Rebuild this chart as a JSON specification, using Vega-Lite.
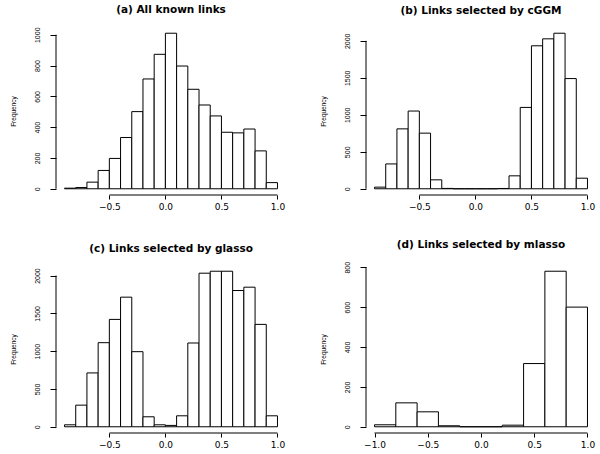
{
  "$schema": "https://vega.github.io/schema/vega-lite/v6.json",
  "background": "white",
  "padding": {"left": 10, "top": 5, "right": 5, "bottom": 5},
  "datasets": {
    "a": [
      {"lo": -0.9, "hi": -0.8, "count": 4},
      {"lo": -0.8, "hi": -0.7, "count": 8},
      {"lo": -0.7, "hi": -0.6, "count": 43},
      {"lo": -0.6, "hi": -0.5, "count": 119},
      {"lo": -0.5, "hi": -0.4, "count": 197},
      {"lo": -0.4, "hi": -0.3, "count": 333},
      {"lo": -0.3, "hi": -0.2, "count": 501},
      {"lo": -0.2, "hi": -0.1, "count": 713},
      {"lo": -0.1, "hi": 0.0, "count": 873},
      {"lo": 0.0, "hi": 0.1, "count": 1010},
      {"lo": 0.1, "hi": 0.2, "count": 797},
      {"lo": 0.2, "hi": 0.3, "count": 646},
      {"lo": 0.3, "hi": 0.4, "count": 544},
      {"lo": 0.4, "hi": 0.5, "count": 473},
      {"lo": 0.5, "hi": 0.6, "count": 367},
      {"lo": 0.6, "hi": 0.7, "count": 363},
      {"lo": 0.7, "hi": 0.8, "count": 388},
      {"lo": 0.8, "hi": 0.9, "count": 246},
      {"lo": 0.9, "hi": 1.0, "count": 40}
    ],
    "b": [
      {"lo": -0.9, "hi": -0.8, "count": 22},
      {"lo": -0.8, "hi": -0.7, "count": 336},
      {"lo": -0.7, "hi": -0.6, "count": 810},
      {"lo": -0.6, "hi": -0.5, "count": 1051},
      {"lo": -0.5, "hi": -0.4, "count": 752},
      {"lo": -0.4, "hi": -0.3, "count": 121},
      {"lo": -0.3, "hi": -0.2, "count": 5},
      {"lo": -0.2, "hi": -0.1, "count": 0},
      {"lo": -0.1, "hi": 0.0, "count": 0},
      {"lo": 0.0, "hi": 0.1, "count": 0},
      {"lo": 0.1, "hi": 0.2, "count": 0},
      {"lo": 0.2, "hi": 0.3, "count": 4},
      {"lo": 0.3, "hi": 0.4, "count": 175},
      {"lo": 0.4, "hi": 0.5, "count": 1100},
      {"lo": 0.5, "hi": 0.6, "count": 1933},
      {"lo": 0.6, "hi": 0.7, "count": 2027},
      {"lo": 0.7, "hi": 0.8, "count": 2103},
      {"lo": 0.8, "hi": 0.9, "count": 1490},
      {"lo": 0.9, "hi": 1.0, "count": 143}
    ],
    "c": [
      {"lo": -0.9, "hi": -0.8, "count": 26},
      {"lo": -0.8, "hi": -0.7, "count": 286},
      {"lo": -0.7, "hi": -0.6, "count": 712},
      {"lo": -0.6, "hi": -0.5, "count": 1112},
      {"lo": -0.5, "hi": -0.4, "count": 1420},
      {"lo": -0.4, "hi": -0.3, "count": 1714},
      {"lo": -0.3, "hi": -0.2, "count": 993},
      {"lo": -0.2, "hi": -0.1, "count": 132},
      {"lo": -0.1, "hi": 0.0, "count": 26},
      {"lo": 0.0, "hi": 0.1, "count": 18},
      {"lo": 0.1, "hi": 0.2, "count": 145},
      {"lo": 0.2, "hi": 0.3, "count": 1108},
      {"lo": 0.3, "hi": 0.4, "count": 2031},
      {"lo": 0.4, "hi": 0.5, "count": 2057},
      {"lo": 0.5, "hi": 0.6, "count": 2057},
      {"lo": 0.6, "hi": 0.7, "count": 1802},
      {"lo": 0.7, "hi": 0.8, "count": 1846},
      {"lo": 0.8, "hi": 0.9, "count": 1354},
      {"lo": 0.9, "hi": 1.0, "count": 145}
    ],
    "d": [
      {"lo": -1.0, "hi": -0.8, "count": 10},
      {"lo": -0.8, "hi": -0.6, "count": 120},
      {"lo": -0.6, "hi": -0.4, "count": 75},
      {"lo": -0.4, "hi": -0.2, "count": 5},
      {"lo": -0.2, "hi": 0.0, "count": 0},
      {"lo": 0.0, "hi": 0.2, "count": 0},
      {"lo": 0.2, "hi": 0.4, "count": 8},
      {"lo": 0.4, "hi": 0.6, "count": 317},
      {"lo": 0.6, "hi": 0.8, "count": 780},
      {"lo": 0.8, "hi": 1.0, "count": 600}
    ]
  },
  "columns": 2,
  "spacing": {"row": 70, "column": 80},
  "bounds": "flush",
  "resolve": {"scale": {"x": "independent", "y": "independent"}},
  "concat": [
    {
      "width": 230, "height": 168,
      "title": "(a) All known links",
      "data": {"name": "a"},
      "layer": [
        {
          "mark": {"type": "bar", "fill": "white", "stroke": "black", "strokeWidth": 1},
          "encoding": {
            "x": {"field": "lo", "type": "quantitative", "title": null,
                  "scale": {"domain": [-0.976, 1.076], "nice": false, "zero": false},
                  "axis": {"values": [-0.5, 0, 0.5, 1], "format": ".1f", "labelOverlap": false}},
            "x2": {"field": "hi"},
            "y": {"field": "count", "type": "quantitative", "title": "Frequency",
                  "scale": {"domain": [-40.4, 1050.4], "nice": false, "zero": false},
                  "axis": {"values": [0, 200, 400, 600, 800, 1000], "format": "d", "labelOverlap": false, "labelSeparation": 0}},
            "y2": {"datum": 0}
          }
        },
        {
          "transform": [{"aggregate": [{"op": "count", "as": "n"}]}],
          "mark": {"type": "rule", "color": "black", "strokeWidth": 1},
          "encoding": {
            "x": {"datum": -0.5, "type": "quantitative", "axis": {"values": [-0.5, 0, 0.5, 1], "format": ".1f", "labelOverlap": false}},
            "x2": {"datum": 1.0},
            "y": {"datum": -40.4, "type": "quantitative", "axis": {"values": [0, 200, 400, 600, 800, 1000], "format": "d", "labelOverlap": false, "labelSeparation": 0}}
          }
        },
        {
          "transform": [{"aggregate": [{"op": "count", "as": "n"}]}],
          "mark": {"type": "rule", "color": "black", "strokeWidth": 1},
          "encoding": {
            "x": {"datum": -0.976, "type": "quantitative", "axis": {"values": [-0.5, 0, 0.5, 1], "format": ".1f", "labelOverlap": false}},
            "y": {"datum": 0, "type": "quantitative", "axis": {"values": [0, 200, 400, 600, 800, 1000], "format": "d", "labelOverlap": false, "labelSeparation": 0}},
            "y2": {"datum": 1000}
          }
        }
      ]
    },
    {
      "width": 230, "height": 168,
      "title": "(b) Links selected by cGGM",
      "data": {"name": "b"},
      "layer": [
        {
          "mark": {"type": "bar", "fill": "white", "stroke": "black", "strokeWidth": 1},
          "encoding": {
            "x": {"field": "lo", "type": "quantitative", "title": null,
                  "scale": {"domain": [-0.976, 1.076], "nice": false, "zero": false},
                  "axis": {"values": [-0.5, 0, 0.5, 1], "format": ".1f", "labelOverlap": false}},
            "x2": {"field": "hi"},
            "y": {"field": "count", "type": "quantitative", "title": "Frequency",
                  "scale": {"domain": [-84.1, 2187.1], "nice": false, "zero": false},
                  "axis": {"values": [0, 500, 1000, 1500, 2000], "format": "d", "labelOverlap": false}},
            "y2": {"datum": 0}
          }
        },
        {
          "transform": [{"aggregate": [{"op": "count", "as": "n"}]}],
          "mark": {"type": "rule", "color": "black", "strokeWidth": 1},
          "encoding": {"x": {"datum": -0.5, "type": "quantitative"}, "x2": {"datum": 1.0}, "y": {"datum": -84.1, "type": "quantitative"}}
        },
        {
          "transform": [{"aggregate": [{"op": "count", "as": "n"}]}],
          "mark": {"type": "rule", "color": "black", "strokeWidth": 1},
          "encoding": {"x": {"datum": -0.976, "type": "quantitative"}, "y": {"datum": 0, "type": "quantitative"}, "y2": {"datum": 2000}}
        }
      ]
    },
    {
      "width": 230, "height": 168,
      "title": "(c) Links selected by glasso",
      "data": {"name": "c"},
      "layer": [
        {
          "mark": {"type": "bar", "fill": "white", "stroke": "black", "strokeWidth": 1},
          "encoding": {
            "x": {"field": "lo", "type": "quantitative", "title": null,
                  "scale": {"domain": [-0.976, 1.076], "nice": false, "zero": false},
                  "axis": {"values": [-0.5, 0, 0.5, 1], "format": ".1f", "labelOverlap": false}},
            "x2": {"field": "hi"},
            "y": {"field": "count", "type": "quantitative", "title": "Frequency",
                  "scale": {"domain": [-82.3, 2139.3], "nice": false, "zero": false},
                  "axis": {"values": [0, 500, 1000, 1500, 2000], "format": "d", "labelOverlap": false}},
            "y2": {"datum": 0}
          }
        },
        {
          "transform": [{"aggregate": [{"op": "count", "as": "n"}]}],
          "mark": {"type": "rule", "color": "black", "strokeWidth": 1},
          "encoding": {"x": {"datum": -0.5, "type": "quantitative"}, "x2": {"datum": 1.0}, "y": {"datum": -82.3, "type": "quantitative"}}
        },
        {
          "transform": [{"aggregate": [{"op": "count", "as": "n"}]}],
          "mark": {"type": "rule", "color": "black", "strokeWidth": 1},
          "encoding": {"x": {"datum": -0.976, "type": "quantitative"}, "y": {"datum": 0, "type": "quantitative"}, "y2": {"datum": 2000}}
        }
      ]
    },
    {
      "width": 230, "height": 168,
      "title": "(d) Links selected by mlasso",
      "data": {"name": "d"},
      "layer": [
        {
          "mark": {"type": "bar", "fill": "white", "stroke": "black", "strokeWidth": 1},
          "encoding": {
            "x": {"field": "lo", "type": "quantitative", "title": null,
                  "scale": {"domain": [-1.08, 1.08], "nice": false, "zero": false},
                  "axis": {"values": [-1, -0.5, 0, 0.5, 1], "format": ".1f", "labelOverlap": false}},
            "x2": {"field": "hi"},
            "y": {"field": "count", "type": "quantitative", "title": "Frequency",
                  "scale": {"domain": [-31.2, 811.2], "nice": false, "zero": false},
                  "axis": {"values": [0, 200, 400, 600, 800], "format": "d", "labelOverlap": false}},
            "y2": {"datum": 0}
          }
        },
        {
          "transform": [{"aggregate": [{"op": "count", "as": "n"}]}],
          "mark": {"type": "rule", "color": "black", "strokeWidth": 1},
          "encoding": {"x": {"datum": -1.0, "type": "quantitative"}, "x2": {"datum": 1.0}, "y": {"datum": -31.2, "type": "quantitative"}}
        },
        {
          "transform": [{"aggregate": [{"op": "count", "as": "n"}]}],
          "mark": {"type": "rule", "color": "black", "strokeWidth": 1},
          "encoding": {"x": {"datum": -1.08, "type": "quantitative"}, "y": {"datum": 0, "type": "quantitative"}, "y2": {"datum": 800}}
        }
      ]
    }
  ],
  "config": {
    "view": {"stroke": null},
    "axis": {
      "domain": false, "grid": false,
      "tickColor": "black", "tickWidth": 1,
      "labelColor": "black", "titleColor": "black",
      "labelFont": "Liberation Sans", "titleFont": "Liberation Sans",
      "titleFontWeight": "normal", "labelOverlap": false
    },
    "axisX": {"tickSize": 4, "labelFont": "DejaVu Sans", "labelFontSize": 9, "labelPadding": 3},
    "axisY": {
      "tickSize": 6, "labelFontSize": 7, "labelAngle": -90,
      "labelAlign": "center", "labelBaseline": "bottom", "labelPadding": 10,
      "titleFontSize": 6.5, "titlePadding": 17
    },
    "title": {"font": "DejaVu Sans", "fontSize": 10.5, "fontWeight": "bold", "color": "black", "offset": 11}
  }
}
